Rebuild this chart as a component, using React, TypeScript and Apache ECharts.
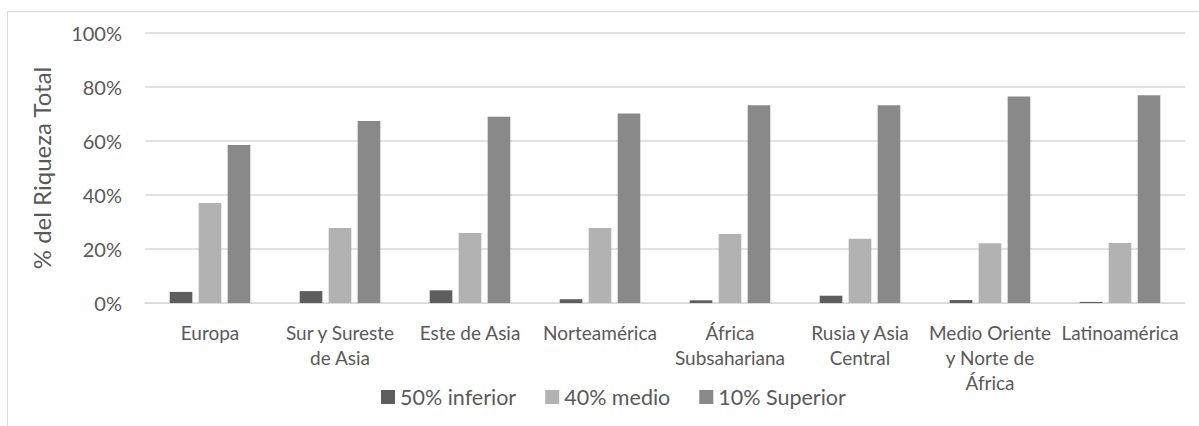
import React, { useEffect, useRef } from "react";
import * as echarts from "echarts";

const categories = [
  "Europa",
  "Sur y Sureste\nde Asia",
  "Este de Asia",
  "Norteamérica",
  "África\nSubsahariana",
  "Rusia y Asia\nCentral",
  "Medio Oriente\ny Norte de\nÁfrica",
  "Latinoamérica",
];
const bottom50 = [4.1, 4.4, 4.7, 1.4, 1.0, 2.7, 1.1, 0.4];
const middle40 = [37.0, 27.8, 25.9, 27.8, 25.6, 23.8, 22.1, 22.2];
const top10 = [58.5, 67.4, 69.0, 70.2, 73.2, 73.2, 76.5, 76.9];
const seriesNames = ["50% inferior", "40% medio", "10% Superior"];
const yTicks = [0, 20, 40, 60, 80, 100];

const FONT = "Lato, 'Open Sans', sans-serif";
const TEXT = "#595959";

export default function App() {
  const ref = useRef<HTMLDivElement>(null);
  useEffect(() => {
    if (!ref.current) return;
    const chart = echarts.init(ref.current, undefined, { renderer: "svg" });
    const colors = ["#5e5e5e", "#b2b2b2", "#898989"];
    const data = [bottom50, middle40, top10];
    chart.setOption({
      animation: false,
      textStyle: { fontFamily: FONT },
      graphic: [
        {
          type: "rect",
          shape: { x: 7.5, y: 11.5, width: 1400, height: 600 },
          style: { fill: "none", stroke: "#d9d9d9", lineWidth: 1 },
          silent: true,
          z: -10,
        },
      ],
      grid: { left: 145, right: 14, top: 33, bottom: 123, containLabel: false },
      legend: {
        data: seriesNames,
        left: 376,
        top: 381,
        itemWidth: 14,
        itemHeight: 14,
        itemGap: 29,
        icon: "rect",
        textStyle: { color: TEXT, fontSize: 21.5, fontFamily: FONT },
      },
      xAxis: {
        type: "category",
        data: categories,
        axisLine: { lineStyle: { color: "#d9d9d9", width: 1 } },
        axisTick: { show: false },
        axisLabel: {
          color: TEXT,
          fontSize: 19,
          lineHeight: 25,
          margin: 17,
          interval: 0,
          fontFamily: FONT,
        },
      },
      yAxis: {
        type: "value",
        min: 0,
        max: 100,
        interval: 20,
        name: "% del Riqueza Total",
        nameLocation: "middle",
        nameGap: 92,
        nameTextStyle: { color: TEXT, fontSize: 24, fontFamily: FONT },
        axisLine: { show: false },
        axisTick: { show: false },
        splitLine: { lineStyle: { color: "#d9d9d9", width: 1.5 } },
        axisLabel: {
          color: TEXT,
          fontSize: 20,
          margin: 23,
          fontFamily: FONT,
          formatter: (v: number) => (yTicks.includes(v) ? v + "%" : ""),
        },
      },
      series: seriesNames.map((name, i) => ({
        name,
        type: "bar",
        data: data[i],
        barGap: "28%",
        barCategoryGap: "38%",
        itemStyle: { color: colors[i] },
      })),
    });
    return () => chart.dispose();
  }, []);
  return <div ref={ref} style={{ width: 1199, height: 426, position: "absolute", left: 0, top: 0 }} />;
}
